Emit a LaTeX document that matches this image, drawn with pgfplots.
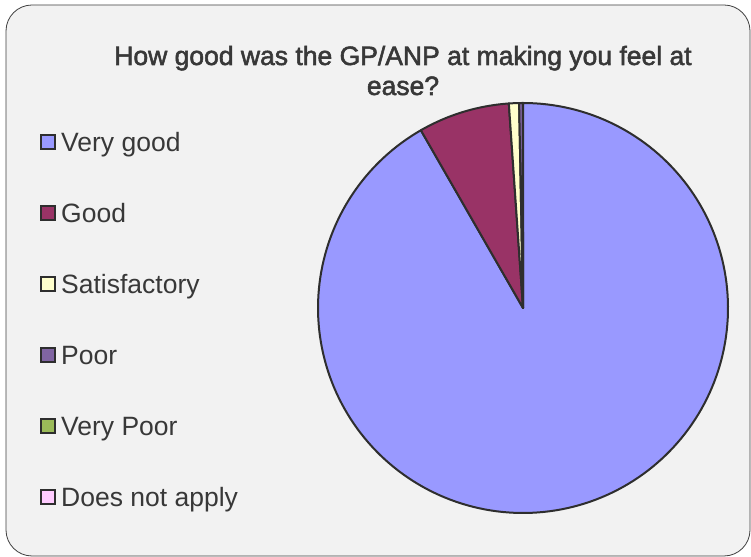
\documentclass[border=0pt]{standalone}
\usepackage{fontspec}
\setmainfont{Liberation Sans}
\newfontfamily\titlefont[FakeBold=2]{Liberation Sans}
\usepackage{pgfplots}
\usepackage{pgfplotstable}
\pgfplotsset{compat=1.18}
\definecolor{cVG}{HTML}{9999FF}
\definecolor{cG}{HTML}{993366}
\definecolor{cS}{HTML}{FFFFCC}
\definecolor{cP}{HTML}{8064A2}
\definecolor{cVP}{HTML}{9BBB59}
\definecolor{cNA}{HTML}{FFCCFF}
\definecolor{edge}{HTML}{2E2E2E}
\definecolor{txt}{HTML}{383838}
\definecolor{bg}{HTML}{F2F2F2}
\pgfplotstableread{
id value
1 91.7
2 7.2
3 0.8
4 0.3
5 0
6 0
}\piedata
\pgfplotstablegetelem{0}{value}\of\piedata \let\vA\pgfplotsretval
\pgfplotstablegetelem{1}{value}\of\piedata \let\vB\pgfplotsretval
\pgfplotstablegetelem{2}{value}\of\piedata \let\vC\pgfplotsretval
\pgfplotstablegetelem{3}{value}\of\piedata \let\vD\pgfplotsretval
\pgfplotstablegetelem{4}{value}\of\piedata \let\vE\pgfplotsretval
\pgfplotstablegetelem{5}{value}\of\piedata \let\vF\pgfplotsretval
\pgfmathsetmacro\tot{\vA+\vB+\vC+\vD+\vE+\vF}
% clockwise from 12 o'clock
\pgfmathsetmacro\aA{90}
\pgfmathsetmacro\aB{\aA-360*(\vA/\tot)}
\pgfmathsetmacro\aC{\aB-360*(\vB/\tot)}
\pgfmathsetmacro\aD{\aC-360*(\vC/\tot)}
\pgfmathsetmacro\aE{\aD-360*(\vD/\tot)}
\begin{document}
\begin{tikzpicture}[x=1bp,y=1bp]
\useasboundingbox (0,0) rectangle (751,557);
\fill[white] (0,0) rectangle (751,557);
\draw[fill=bg, draw=black!75, line width=0.8bp, rounded corners=26bp] (6,1) rectangle (750,552);
\begin{axis}[at={(523bp,249bp)}, anchor=origin, scale only axis,
  width=410bp, height=410bp, xmin=-1, xmax=1, ymin=-1, ymax=1,
  hide axis, clip=false]
\addplot[fill=cVG, draw=edge, line width=2bp, line join=round, domain=\aB:\aA, samples=200, variable=\t] ({cos(\t)},{sin(\t)}) -- (axis cs:0,0) -- cycle;
\addplot[fill=cG, draw=edge, line width=2bp, line join=round, domain=\aC:\aB, samples=30, variable=\t] ({cos(\t)},{sin(\t)}) -- (axis cs:0,0) -- cycle;
\addplot[fill=cS, draw=edge, line width=2bp, line join=round, domain=\aD:\aC, samples=5, variable=\t] ({cos(\t)},{sin(\t)}) -- (axis cs:0,0) -- cycle;
\addplot[fill=cP, draw=edge, line width=2bp, line join=round, domain=\aE:\aD, samples=3, variable=\t] ({cos(\t)},{sin(\t)}) -- (axis cs:0,0) -- cycle;
\end{axis}
\begin{scope}[font=\fontsize{26.5bp}{30bp}\selectfont, text=txt]
\node[anchor=base, inner sep=0, font=\fontsize{26.5bp}{30bp}\titlefont] at (403,492) {How good was the GP/ANP at making you feel at};
\node[anchor=base, inner sep=0, font=\fontsize{26.5bp}{30bp}\titlefont] at (403,462) {ease?};
\foreach \c/\l [count=\i from 0] in {cVG/Very good, cG/Good, cS/Satisfactory, cP/Poor, cVP/Very Poor, cNA/Does not apply}{
  \pgfmathsetmacro\yc{557-142-71*\i}
  \draw[fill=\c, draw=edge, line width=1.8bp] (41,\yc-7) rectangle (55,\yc+7);
  \node[anchor=base west, inner sep=0] at (61,\yc-9.5) {\l};
}
\end{scope}
\end{tikzpicture}
\end{document}
